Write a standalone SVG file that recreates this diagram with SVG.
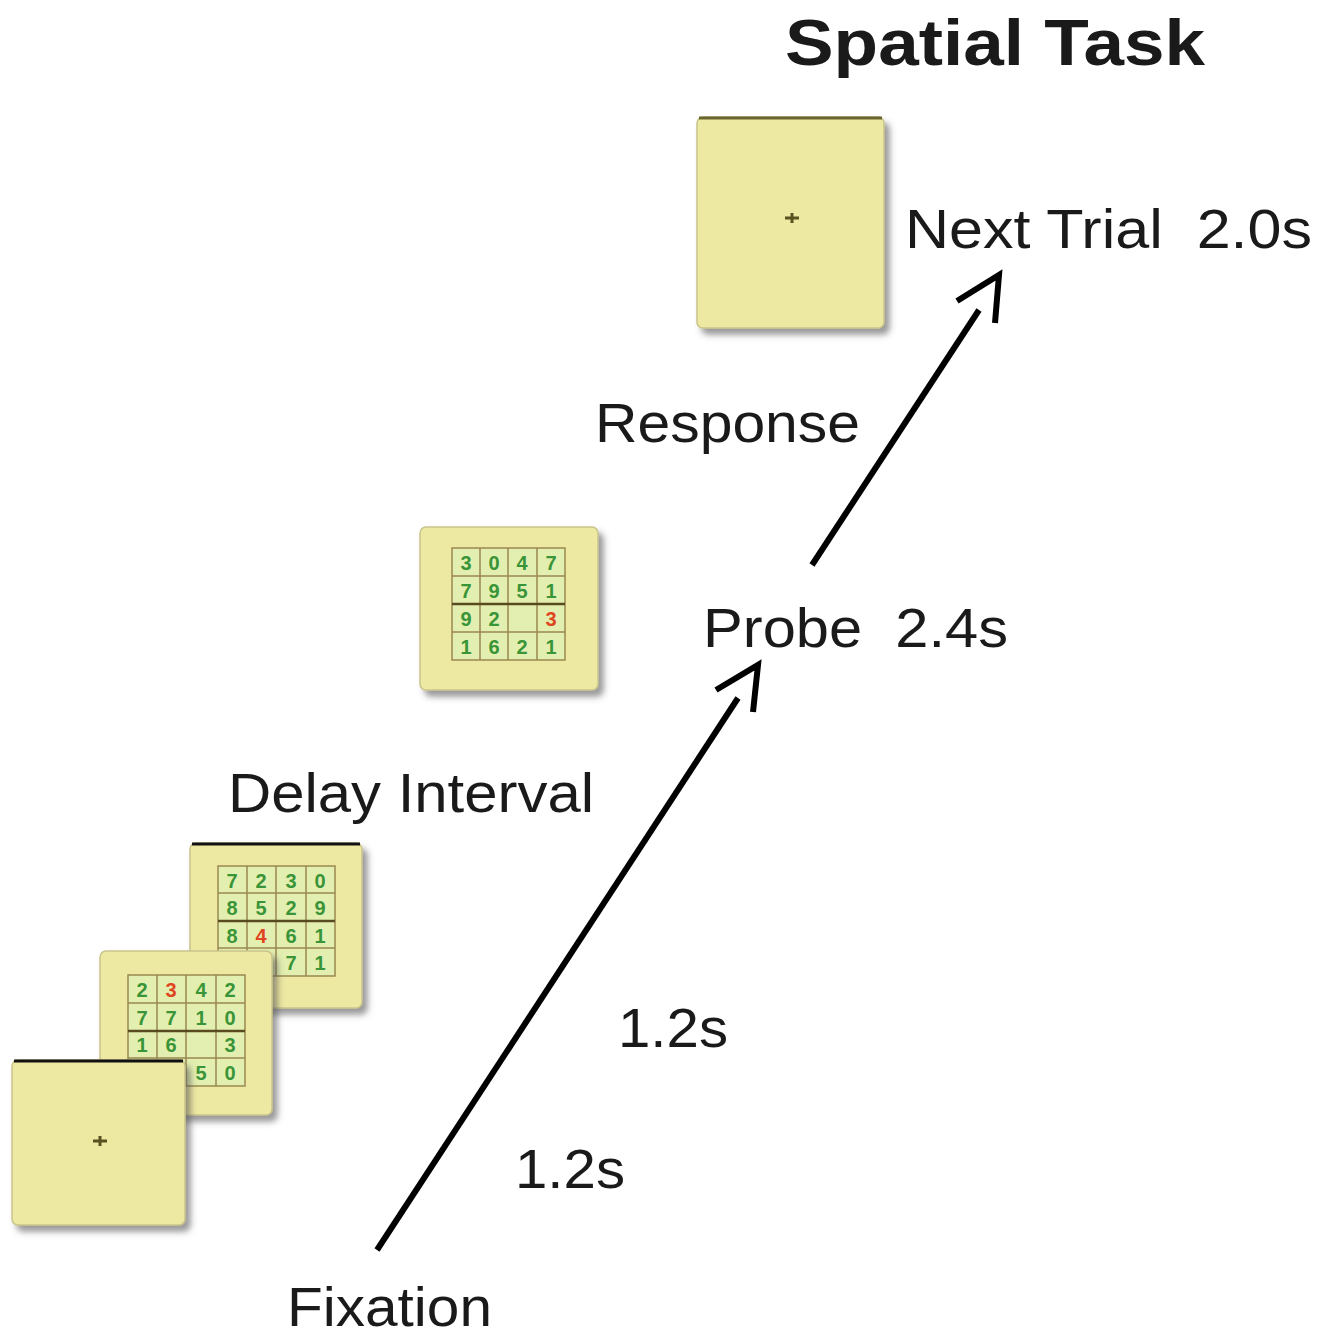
<svg xmlns="http://www.w3.org/2000/svg" width="1335" height="1336" viewBox="0 0 1335 1336">
<style>
.lbl{font-family:"Liberation Sans",Arial,sans-serif;font-size:56px;fill:#1a1a1a}
.title{font-family:"Liberation Sans",Arial,sans-serif;font-size:64px;font-weight:bold;fill:#1a1a1a}
.card{fill:#eee9a2;stroke:#c9c48a;stroke-width:1.5}
.grid{fill:#e3efb0;stroke:#9a8850;stroke-width:1.5}
.gl{stroke:#9a8850;stroke-width:1.5}
.d{font-family:"Liberation Sans",Arial,sans-serif;font-size:20px;font-weight:bold;fill:#3a9438;text-anchor:middle}
.r{fill:#e04522}
.arrow{stroke:#000;stroke-width:6;fill:none;stroke-linecap:butt;stroke-linejoin:miter}
.cross{stroke:#5a5020;stroke-width:3}
</style>
<defs>
<filter id="sh" x="-10%" y="-10%" width="130%" height="130%">
<feDropShadow dx="5" dy="6" stdDeviation="3" flood-color="#555" flood-opacity="0.6"/>
</filter>
</defs>
<rect width="1335" height="1336" fill="#fff"/>

<text class="title" x="785" y="65" textLength="420" lengthAdjust="spacingAndGlyphs">Spatial Task</text>

<g id="next-trial-card">
<rect class="card" x="697" y="117" width="187" height="211" rx="6" filter="url(#sh)"/>
<line x1="699" y1="118" x2="882" y2="118" stroke="#6b6530" stroke-width="3"/>
<line class="cross" x1="785" y1="218" x2="799" y2="218"/>
<line class="cross" x1="792" y1="213" x2="792" y2="223"/>
</g>
<text class="lbl" x="905" y="248" textLength="407" lengthAdjust="spacingAndGlyphs" xml:space="preserve">Next Trial  2.0s</text>
<text class="lbl" x="595" y="442" textLength="265" lengthAdjust="spacingAndGlyphs">Response</text>

<g id="probe-card">
<rect class="card" x="420" y="527" width="178" height="163" rx="6" filter="url(#sh)"/>
<rect class="grid" x="452" y="548" width="113" height="112"/>
<g class="gl">
<line x1="480" y1="548" x2="480" y2="660"/><line x1="508" y1="548" x2="508" y2="660"/><line x1="537" y1="548" x2="537" y2="660"/>
<line x1="452" y1="576" x2="565" y2="576"/><line x1="452" y1="604" x2="565" y2="604" stroke="#5a4a20" stroke-width="2.5"/><line x1="452" y1="632" x2="565" y2="632"/>
</g>
<text class="d" x="466" y="570">3</text><text class="d" x="494" y="570">0</text><text class="d" x="522" y="570">4</text><text class="d" x="551" y="570">7</text>
<text class="d" x="466" y="598">7</text><text class="d" x="494" y="598">9</text><text class="d" x="522" y="598">5</text><text class="d" x="551" y="598">1</text>
<text class="d" x="466" y="626">9</text><text class="d" x="494" y="626">2</text><text class="d r" x="551" y="626">3</text>
<text class="d" x="466" y="654">1</text><text class="d" x="494" y="654">6</text><text class="d" x="522" y="654">2</text><text class="d" x="551" y="654">1</text>
</g>
<text class="lbl" x="703" y="647" textLength="305" lengthAdjust="spacingAndGlyphs" xml:space="preserve">Probe  2.4s</text>

<text class="lbl" x="228" y="812" textLength="366" lengthAdjust="spacingAndGlyphs">Delay Interval</text>

<g id="stimulus-card-2">
<rect class="card" x="190" y="843" width="172" height="165" rx="6" filter="url(#sh)"/>
<line x1="192" y1="844" x2="360" y2="844" stroke="#111" stroke-width="3"/>
<rect class="grid" x="218" y="866" width="117" height="110"/>
<g class="gl">
<line x1="247" y1="866" x2="247" y2="976"/><line x1="276" y1="866" x2="276" y2="976"/><line x1="306" y1="866" x2="306" y2="976"/>
<line x1="218" y1="893" x2="335" y2="893"/><line x1="218" y1="921" x2="335" y2="921" stroke="#5a4a20" stroke-width="2.5"/><line x1="218" y1="948" x2="335" y2="948"/>
</g>
<text class="d" x="232" y="888">7</text><text class="d" x="261" y="888">2</text><text class="d" x="291" y="888">3</text><text class="d" x="320" y="888">0</text>
<text class="d" x="232" y="915">8</text><text class="d" x="261" y="915">5</text><text class="d" x="291" y="915">2</text><text class="d" x="320" y="915">9</text>
<text class="d" x="232" y="943">8</text><text class="d r" x="261" y="943">4</text><text class="d" x="291" y="943">6</text><text class="d" x="320" y="943">1</text>
<text class="d" x="291" y="970">7</text><text class="d" x="320" y="970">1</text>
</g>

<g id="stimulus-card-1">
<rect class="card" x="100" y="951" width="172" height="164" rx="6" filter="url(#sh)"/>
<rect class="grid" x="128" y="975" width="117" height="111"/>
<g class="gl">
<line x1="157" y1="975" x2="157" y2="1086"/><line x1="186" y1="975" x2="186" y2="1086"/><line x1="216" y1="975" x2="216" y2="1086"/>
<line x1="128" y1="1003" x2="245" y2="1003"/><line x1="128" y1="1031" x2="245" y2="1031" stroke="#5a4a20" stroke-width="2.5"/><line x1="128" y1="1058" x2="245" y2="1058"/>
</g>
<text class="d" x="142" y="997">2</text><text class="d r" x="171" y="997">3</text><text class="d" x="201" y="997">4</text><text class="d" x="230" y="997">2</text>
<text class="d" x="142" y="1025">7</text><text class="d" x="171" y="1025">7</text><text class="d" x="201" y="1025">1</text><text class="d" x="230" y="1025">0</text>
<text class="d" x="142" y="1052">1</text><text class="d" x="171" y="1052">6</text><text class="d" x="230" y="1052">3</text>
<text class="d" x="201" y="1080">5</text><text class="d" x="230" y="1080">0</text>
</g>

<g id="fixation-card">
<rect class="card" x="12" y="1060" width="173" height="165" rx="6" filter="url(#sh)"/>
<line x1="14" y1="1061" x2="183" y2="1061" stroke="#111" stroke-width="3"/>
<line class="cross" x1="93" y1="1141" x2="107" y2="1141"/>
<line class="cross" x1="100" y1="1136" x2="100" y2="1146"/>
</g>

<text class="lbl" x="618" y="1047" textLength="110" lengthAdjust="spacingAndGlyphs">1.2s</text>
<text class="lbl" x="515" y="1188" textLength="110" lengthAdjust="spacingAndGlyphs">1.2s</text>
<text class="lbl" x="287" y="1326" font-size="54" textLength="205" lengthAdjust="spacingAndGlyphs">Fixation</text>

<g id="connectors">
<line class="arrow" x1="377" y1="1250" x2="738" y2="698"/>
<polyline class="arrow" points="716,690 758,665 753,712"/>
<line class="arrow" x1="812" y1="565" x2="979" y2="310"/>
<polyline class="arrow" points="957,301 999,275 995,323"/>
</g>
</svg>
